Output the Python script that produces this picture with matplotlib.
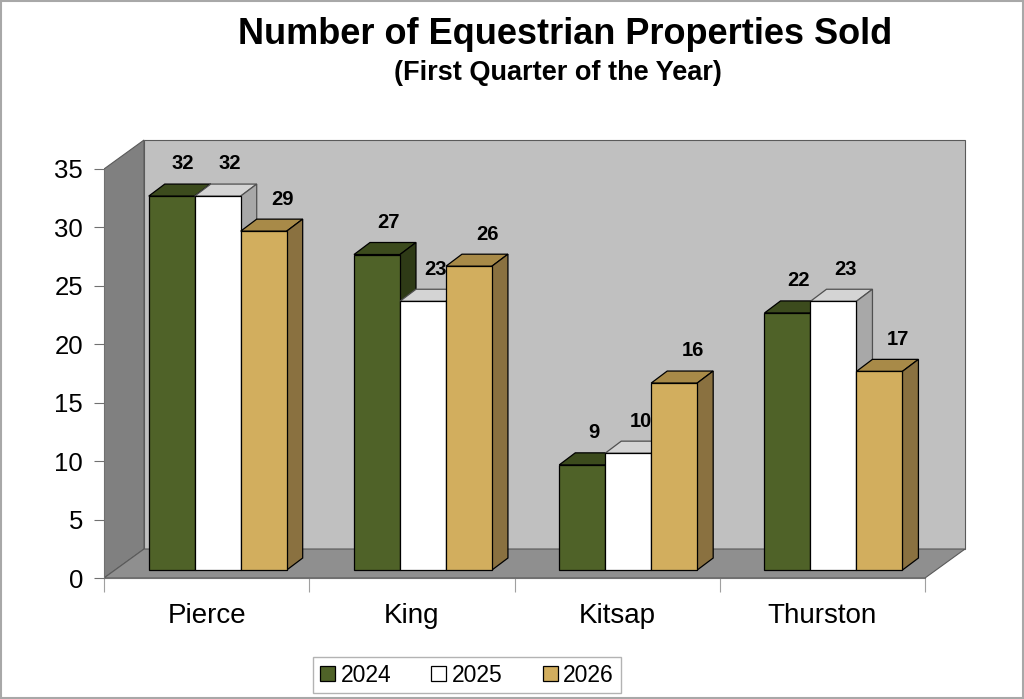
import matplotlib
matplotlib.use("Agg")
import matplotlib.pyplot as plt
from matplotlib.patches import Polygon, Patch

# ---- data ----
categorias = ["Pierce", "King", "Kitsap", "Thurston"]
anios = ["2024", "2025", "2026"]
v2024 = [32, 27, 9, 22]
v2025 = [32, 23, 10, 23]
v2026 = [29, 26, 16, 17]
series = [v2024, v2025, v2026]

# colores (frente, arriba, lado)
col_frente = ["#4f6228", "#ffffff", "#d2ae5e"]
col_arriba = ["#3c4b1d", "#d4d4d4", "#a88a48"]
col_lado = ["#2e3a16", "#a8a8a8", "#8a7140"]
borde_bar = ["black", "#505050", "black"]

plt.rcParams['font.family'] = ['Liberation Sans', 'DejaVu Sans']

fig = plt.figure(figsize=(10.24, 6.99), dpi=100)

# ejes: frente del grafico en coordenadas de datos
ymax = 35
wall_dx, wall_dy = 0.195, 2.48      # profundidad de las paredes
bar_fx, bar_fy = 0.054, 0.68        # desplazamiento frente de barras
bar_dx, bar_dy = 0.078, 1.03        # profundidad de barras
ancho = 0.224
hueco = 1 - 3 * ancho
etiq_dx = [0.055, 0.06, 0.09]       # desplazamiento de etiquetas por serie
etiq_dy = 1.72

x0_px, x1_px = 104, 925
y0_px, y35_px = 578, 169
ppx = (x1_px - x0_px) / 4
ppy = (y0_px - y35_px) / ymax
xlim = (0, 4 + wall_dx + 0.01)
ylim = (0, ymax + wall_dy + 0.05)
ax = fig.add_axes([x0_px / 1024, (699 - y0_px) / 699,
                   xlim[1] * ppx / 1024, ylim[1] * ppy / 699])
ax.set_xlim(*xlim)
ax.set_ylim(*ylim)
ax.patch.set_visible(False)

# paredes
edge = "#5a5a5a"
ax.add_patch(Polygon([(0, 0), (0, ymax), (wall_dx, ymax + wall_dy), (wall_dx, wall_dy)],
                     closed=True, facecolor="#808080", edgecolor=edge, lw=0.8, zorder=1))
ax.add_patch(Polygon([(wall_dx, wall_dy), (4 + wall_dx, wall_dy), (4 + wall_dx, ymax + wall_dy),
                      (wall_dx, ymax + wall_dy)],
                     closed=True, facecolor="#c0c0c0", edgecolor=edge, lw=0.8, zorder=1))
ax.add_patch(Polygon([(0, 0), (4, 0), (4 + wall_dx, wall_dy), (wall_dx, wall_dy)],
                     closed=True, facecolor="#8f8f8f", edgecolor=edge, lw=0.8, zorder=1))

# barras 3D
for i, cat in enumerate(categorias):
    for j, vals in enumerate(series):
        v = vals[i]
        xa = i + hueco / 2 + j * ancho + bar_fx
        xb = xa + ancho
        ya = bar_fy
        yb = bar_fy + v
        z = 3 + j
        ax.add_patch(Polygon([(xa, yb), (xb, yb), (xb + bar_dx, yb + bar_dy), (xa + bar_dx, yb + bar_dy)],
                             closed=True, facecolor=col_arriba[j], edgecolor=borde_bar[j], lw=0.9, zorder=z))
        ax.add_patch(Polygon([(xb, ya), (xb, yb), (xb + bar_dx, yb + bar_dy), (xb + bar_dx, ya + bar_dy)],
                             closed=True, facecolor=col_lado[j], edgecolor=borde_bar[j], lw=0.9, zorder=z))
        ax.add_patch(Polygon([(xa, ya), (xb, ya), (xb, yb), (xa, yb)], closed=True,
                             facecolor=col_frente[j], edgecolor="black", lw=0.9, zorder=z))
        ax.text((xa + xb) / 2 + etiq_dx[j], yb + bar_dy + etiq_dy, str(v),
                ha="center", va="center", fontsize=14.5, fontweight="bold", zorder=10)

# ejes
for s in ["top", "right"]:
    ax.spines[s].set_visible(False)
ax.spines["left"].set_bounds(0, ymax)
ax.spines["bottom"].set_bounds(0, 4)
ax.spines["left"].set_color("#707070")
ax.spines["bottom"].set_color("#707070")
ax.spines["left"].set_zorder(2)
ax.spines["bottom"].set_zorder(2)

ax.set_yticks(range(0, ymax + 1, 5))
ax.tick_params(axis="y", labelsize=18.5, length=7, color="#707070", pad=8)
ax.set_xticks(range(0, 5))
ax.set_xticklabels([])
ax.tick_params(axis="x", which="major", length=10, color="#a0a0a0")
ax.set_xticks([i + 0.5 for i in range(4)], minor=True)
ax.set_xticklabels(categorias, minor=True)
ax.tick_params(axis="x", which="minor", length=0, labelsize=20, pad=18)

# titulos
fig.text(565 / 1024, 1 - 34 / 699, "Number of Equestrian Properties Sold",
         ha="center", va="center", fontsize=26, fontweight="bold")
fig.text(558 / 1024, 1 - 73 / 699, "(First Quarter of the Year)",
         ha="center", va="center", fontsize=19.5, fontweight="bold")

# leyenda
handles = [Patch(facecolor=col_frente[j], edgecolor="black", lw=0.9) for j in range(3)]
leg = fig.legend(handles, anios, loc="center", bbox_to_anchor=(467 / 1024, 24 / 699), ncol=3,
                 fontsize=16.5, frameon=True, fancybox=False, handlelength=0.65, handleheight=0.65,
                 handletextpad=0.25, columnspacing=1.75, borderpad=0.3)
leg.get_frame().set_edgecolor("#a0a0a0")
leg.get_frame().set_linewidth(1.0)

# borde de la figura
fig.patches.append(plt.Rectangle((0.001, 0.001), 0.998, 0.998, transform=fig.transFigure,
                                 fill=False, edgecolor="#a8a8a8", lw=1.5))

fig.savefig("out.png", dpi=100)
